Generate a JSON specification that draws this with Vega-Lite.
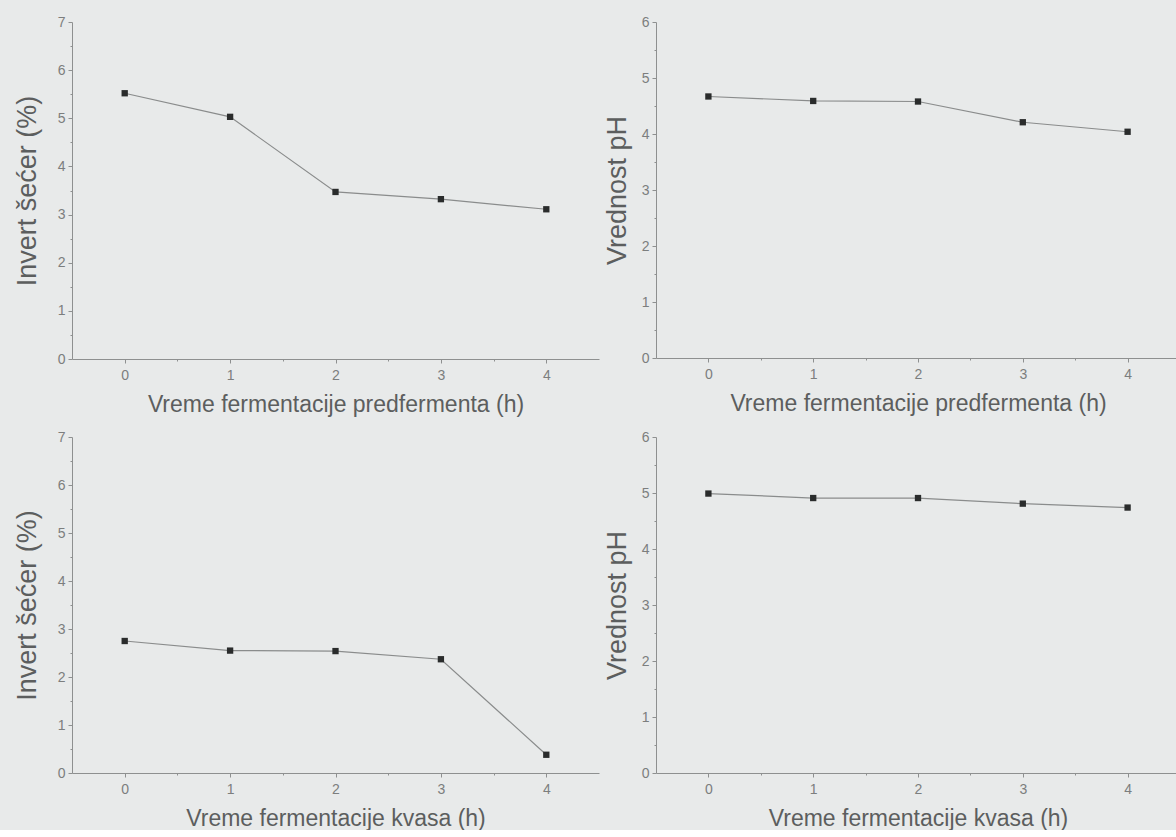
{
  "$schema": "https://vega.github.io/schema/vega-lite/v6.json",
  "background": "#e8eaea",
  "padding": {"left": 13, "top": 15, "right": 0, "bottom": 0},
  "config": {
    "view": {"stroke": null},
    "font": "Liberation Sans",
    "axis": {
      "grid": false,
      "domainColor": "#8e9090",
      "domainWidth": 1,
      "tickColor": "#8e9090",
      "labelColor": "#7c7e7e",
      "labelFont": "Liberation Sans",
      "labelFontSize": 14,
      "titleFont": "Liberation Sans",
      "titleFontWeight": "normal",
      "titleColor": "#5c5e5e"
    },
    "axisX": {"labelPadding": 5, "titlePadding": 11, "titleFontSize": 23},
    "axisY": {"labelPadding": 3, "titlePadding": 16, "titleFontSize": 27},
    "line": {"color": "#8a8c8c", "strokeWidth": 1.2},
    "point": {"shape": "square", "filled": true, "color": "#2a2c2c", "size": 40, "opacity": 1}
  },
  "datasets": {
    "mjerenja": [
      {"panel": "a", "t": 0, "v": 5.52},
      {"panel": "a", "t": 1, "v": 5.03},
      {"panel": "a", "t": 2, "v": 3.47},
      {"panel": "a", "t": 3, "v": 3.32},
      {"panel": "a", "t": 4, "v": 3.11},
      {"panel": "b", "t": 0, "v": 4.67},
      {"panel": "b", "t": 1, "v": 4.59},
      {"panel": "b", "t": 2, "v": 4.58},
      {"panel": "b", "t": 3, "v": 4.21},
      {"panel": "b", "t": 4, "v": 4.04},
      {"panel": "c", "t": 0, "v": 2.75},
      {"panel": "c", "t": 1, "v": 2.55},
      {"panel": "c", "t": 2, "v": 2.54},
      {"panel": "c", "t": 3, "v": 2.37},
      {"panel": "c", "t": 4, "v": 0.38},
      {"panel": "d", "t": 0, "v": 4.99},
      {"panel": "d", "t": 1, "v": 4.91},
      {"panel": "d", "t": 2, "v": 4.91},
      {"panel": "d", "t": 3, "v": 4.81},
      {"panel": "d", "t": 4, "v": 4.74}
    ]
  },
  "columns": 2,
  "align": "none",
  "spacing": {"row": 14, "column": 4},
  "concat": [
    {
      "width": 527, "height": 337,
      "data": {"name": "mjerenja"},
      "transform": [{"filter": "datum.panel === 'a'"}],
      "encoding": {
        "x": {"field": "t", "type": "quantitative",
          "scale": {"domain": [-0.5, 4.5], "nice": false, "zero": false},
          "axis": {"title": "Vreme fermentacije predfermenta (h)",
            "values": [0, 0.5, 1, 1.5, 2, 2.5, 3, 3.5, 4],
            "labelExpr": "datum.value % 1 === 0 ? format(datum.value, 'd') : ''",
            "tickSize": {"condition": {"test": "datum.value % 1 !== 0", "value": 2}, "value": 4}}},
        "y": {"field": "v", "type": "quantitative",
          "scale": {"domain": [0, 7], "nice": false},
          "axis": {"title": "Invert šećer (%)",
            "values": [0, 0.5, 1, 1.5, 2, 2.5, 3, 3.5, 4, 4.5, 5, 5.5, 6, 6.5, 7],
            "labelExpr": "datum.value % 1 === 0 ? format(datum.value, 'd') : ''",
            "tickSize": {"condition": {"test": "datum.value % 1 !== 0", "value": 2}, "value": 4}}}
      },
      "layer": [{"mark": "line"}, {"mark": "point"}]
    },
    {
      "width": 524, "height": 336,
      "data": {"name": "mjerenja"},
      "transform": [{"filter": "datum.panel === 'b'"}],
      "encoding": {
        "x": {"field": "t", "type": "quantitative",
          "scale": {"domain": [-0.5, 4.5], "nice": false, "zero": false},
          "axis": {"title": "Vreme fermentacije predfermenta (h)",
            "values": [0, 0.5, 1, 1.5, 2, 2.5, 3, 3.5, 4],
            "labelExpr": "datum.value % 1 === 0 ? format(datum.value, 'd') : ''",
            "tickSize": {"condition": {"test": "datum.value % 1 !== 0", "value": 2}, "value": 4}}},
        "y": {"field": "v", "type": "quantitative",
          "scale": {"domain": [0, 6], "nice": false},
          "axis": {"title": "Vrednost pH", "titlePadding": 10,
            "values": [0, 0.5, 1, 1.5, 2, 2.5, 3, 3.5, 4, 4.5, 5, 5.5, 6],
            "labelExpr": "datum.value % 1 === 0 ? format(datum.value, 'd') : ''",
            "tickSize": {"condition": {"test": "datum.value % 1 !== 0", "value": 2}, "value": 4}}}
      },
      "layer": [{"mark": "line"}, {"mark": "point"}]
    },
    {
      "width": 527, "height": 336,
      "data": {"name": "mjerenja"},
      "transform": [{"filter": "datum.panel === 'c'"}],
      "encoding": {
        "x": {"field": "t", "type": "quantitative",
          "scale": {"domain": [-0.5, 4.5], "nice": false, "zero": false},
          "axis": {"title": "Vreme fermentacije kvasa (h)",
            "values": [0, 0.5, 1, 1.5, 2, 2.5, 3, 3.5, 4],
            "labelExpr": "datum.value % 1 === 0 ? format(datum.value, 'd') : ''",
            "tickSize": {"condition": {"test": "datum.value % 1 !== 0", "value": 2}, "value": 4}}},
        "y": {"field": "v", "type": "quantitative",
          "scale": {"domain": [0, 7], "nice": false},
          "axis": {"title": "Invert šećer (%)",
            "values": [0, 0.5, 1, 1.5, 2, 2.5, 3, 3.5, 4, 4.5, 5, 5.5, 6, 6.5, 7],
            "labelExpr": "datum.value % 1 === 0 ? format(datum.value, 'd') : ''",
            "tickSize": {"condition": {"test": "datum.value % 1 !== 0", "value": 2}, "value": 4}}}
      },
      "layer": [{"mark": "line"}, {"mark": "point"}]
    },
    {
      "width": 524, "height": 336,
      "data": {"name": "mjerenja"},
      "transform": [{"filter": "datum.panel === 'd'"}],
      "encoding": {
        "x": {"field": "t", "type": "quantitative",
          "scale": {"domain": [-0.5, 4.5], "nice": false, "zero": false},
          "axis": {"title": "Vreme fermentacije kvasa (h)",
            "values": [0, 0.5, 1, 1.5, 2, 2.5, 3, 3.5, 4],
            "labelExpr": "datum.value % 1 === 0 ? format(datum.value, 'd') : ''",
            "tickSize": {"condition": {"test": "datum.value % 1 !== 0", "value": 2}, "value": 4}}},
        "y": {"field": "v", "type": "quantitative",
          "scale": {"domain": [0, 6], "nice": false},
          "axis": {"title": "Vrednost pH", "titlePadding": 10,
            "values": [0, 0.5, 1, 1.5, 2, 2.5, 3, 3.5, 4, 4.5, 5, 5.5, 6],
            "labelExpr": "datum.value % 1 === 0 ? format(datum.value, 'd') : ''",
            "tickSize": {"condition": {"test": "datum.value % 1 !== 0", "value": 2}, "value": 4}}}
      },
      "layer": [{"mark": "line"}, {"mark": "point"}]
    }
  ]
}
